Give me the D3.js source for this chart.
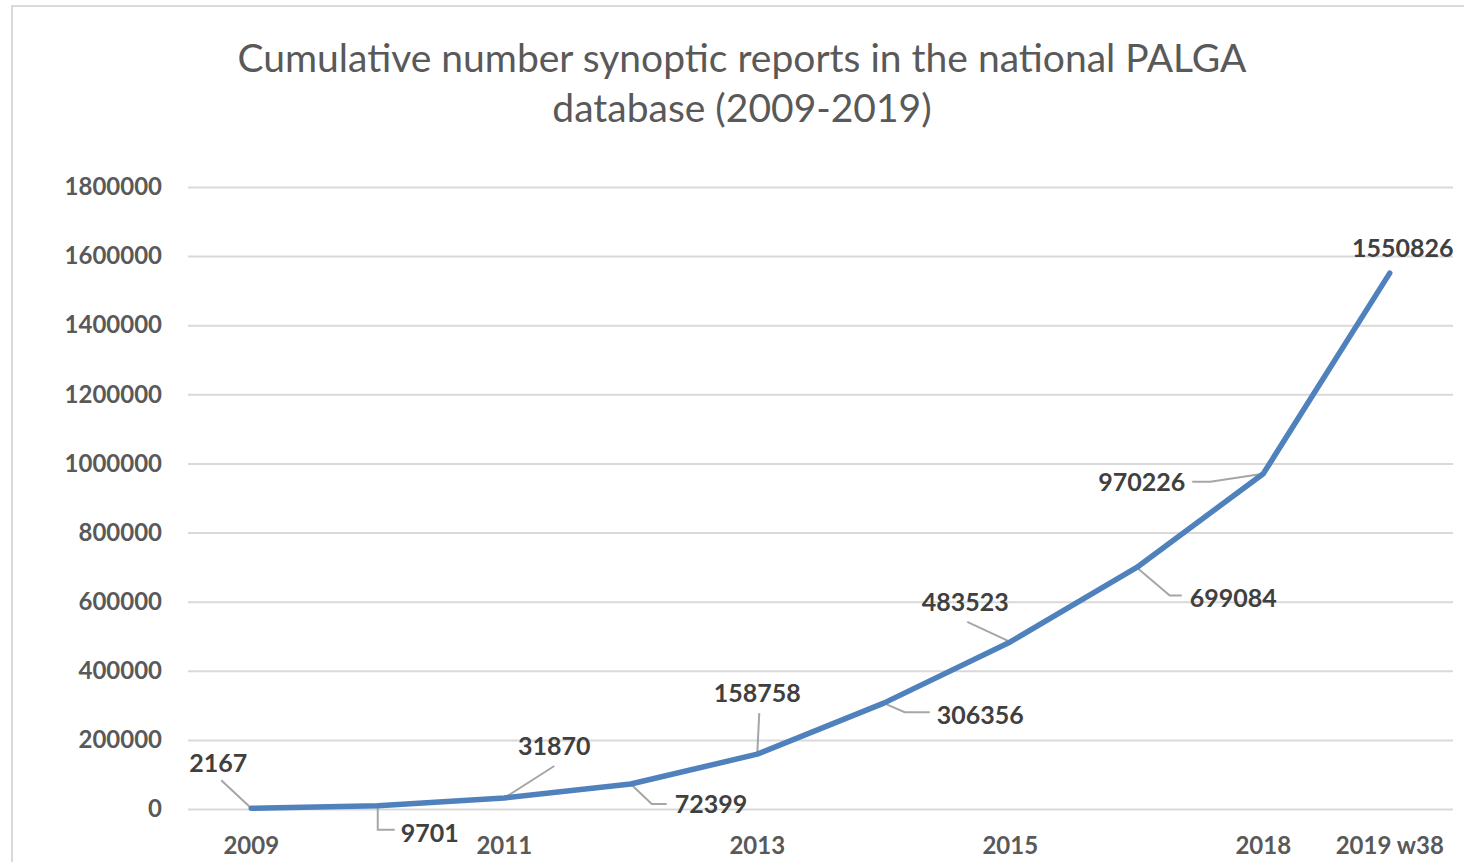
<!DOCTYPE html>
<html>
<head>
<meta charset="utf-8">
<script src="https://cdn.jsdelivr.net/npm/d3@7"></script>
<style>
  html, body { margin: 0; padding: 0; background: #fff; }
  svg { display: block; }
</style>
</head>
<body>
<svg id="chart" width="1464" height="862"></svg>
<script>
// Categories along the x axis (one per data point)
const categories = ["2009", "2010", "2011", "2012", "2013", "2014", "2015", "2017", "2018", "2019 w38"];
// Axis labels actually printed under the axis (blank = skipped)
const xTickLabels = ["2009", "", "2011", "", "2013", "", "2015", "", "2018", "2019 w38"];
// Cumulative number of synoptic reports
const cumulativeReports = [2167, 9701, 31870, 72399, 158758, 306356, 483523, 699084, 970226, 1550826];
// Y axis ticks
const yTicks = [0, 200000, 400000, 600000, 800000, 1000000, 1200000, 1400000, 1600000, 1800000];

const titleLines = ["Cumulative number synoptic reports in the national PALGA", "database (2009-2019)"];

// Placement of each data label relative to its point: text offset, anchor, leader-line bends
const labelLayout = [
  { dx: -33, dy: -46, anchor: "middle", leader: [[-30, -28]] },
  { dx: 23,  dy: 26,  anchor: "start",  leader: [[0, 24], [17, 24]] },
  { dx: 50,  dy: -53, anchor: "middle", leader: [[50, -32]] },
  { dx: 44,  dy: 19,  anchor: "start",  leader: [[21, 20], [36, 20]] },
  { dx: 0,   dy: -62, anchor: "middle", leader: [[2, -41]] },
  { dx: 53,  dy: 11,  anchor: "start",  leader: [[21, 9], [46, 9]] },
  { dx: -45, dy: -41, anchor: "middle", leader: [[-43, -20]] },
  { dx: 53,  dy: 30,  anchor: "start",  leader: [[33, 28], [45, 28]] },
  { dx: -78, dy: 7,   anchor: "end",    leader: [[-53, 8], [-71, 8]] },
  { dx: 13,  dy: -26, anchor: "middle", leader: [] }
];

const svg = d3.select("#chart");
const font = "Lato, 'Open Sans', sans-serif";

// Chart frame
svg.append("rect")
  .attr("x", 12).attr("y", 6).attr("width", 1480).attr("height", 900)
  .attr("fill", "#fff").attr("stroke", "#d9d9d9").attr("stroke-width", 2);

const plot = { left: 188, right: 1453, top: 187, bottom: 809 };

const x = d3.scaleBand().domain(categories).range([plot.left, plot.right]).padding(0);
const y = d3.scaleLinear().domain([0, 1800000]).range([plot.bottom, plot.top]);
const cx = c => x(c) + x.bandwidth() / 2;

// Title
svg.append("g").selectAll("text").data(titleLines).join("text")
  .attr("x", 742).attr("y", (d, i) => 72 + i * 50)
  .attr("text-anchor", "middle")
  .attr("font-family", font).attr("font-size", 39)
  .attr("fill", "#595959")
  .text(d => d);

// Horizontal gridlines
const yAxis = d3.axisLeft(y).tickValues(yTicks).tickFormat(d3.format("d"))
  .tickSize(-(plot.right - plot.left)).tickPadding(26);
const gy = svg.append("g").attr("transform", `translate(${plot.left},0)`).call(yAxis);
gy.select(".domain").remove();
gy.selectAll(".tick line").attr("stroke", "#d9d9d9").attr("stroke-width", 2);
gy.selectAll(".tick text")
  .attr("font-family", font).attr("font-size", 24).attr("font-weight", "bold")
  .attr("fill", "#595959");

// X axis labels
const xAxis = d3.axisBottom(x).tickSize(0).tickPadding(28).tickFormat((d, i) => xTickLabels[i]);
const gx = svg.append("g").attr("transform", `translate(0,${plot.bottom})`).call(xAxis);
gx.select(".domain").remove();
gx.selectAll(".tick text")
  .attr("font-family", font).attr("font-size", 24).attr("font-weight", "bold")
  .attr("fill", "#595959");

// Series data
const pts = categories.map((c, i) => ({ c, v: cumulativeReports[i], px: cx(c), py: y(cumulativeReports[i]), lay: labelLayout[i] }));

// Leader lines
svg.append("g").selectAll("path").data(pts.filter(p => p.lay.leader.length)).join("path")
  .attr("d", p => d3.line()([[p.px, p.py], ...p.lay.leader.map(([a, b]) => [p.px + a, p.py + b])]))
  .attr("fill", "none").attr("stroke", "#a6a6a6").attr("stroke-width", 2);

// Line
svg.append("path").datum(pts)
  .attr("d", d3.line().x(p => p.px).y(p => p.py))
  .attr("fill", "none").attr("stroke", "#4f81bd").attr("stroke-width", 5.5)
  .attr("stroke-linecap", "round").attr("stroke-linejoin", "round");

// Data labels
svg.append("g").selectAll("text").data(pts).join("text")
  .attr("x", p => p.px + p.lay.dx).attr("y", p => p.py + p.lay.dy)
  .attr("text-anchor", p => p.lay.anchor)
  .attr("dominant-baseline", "central")
  .attr("font-family", font).attr("font-size", 25).attr("font-weight", "bold")
  .attr("fill", "#404040")
  .text(p => p.v);
</script>
</body>
</html>
